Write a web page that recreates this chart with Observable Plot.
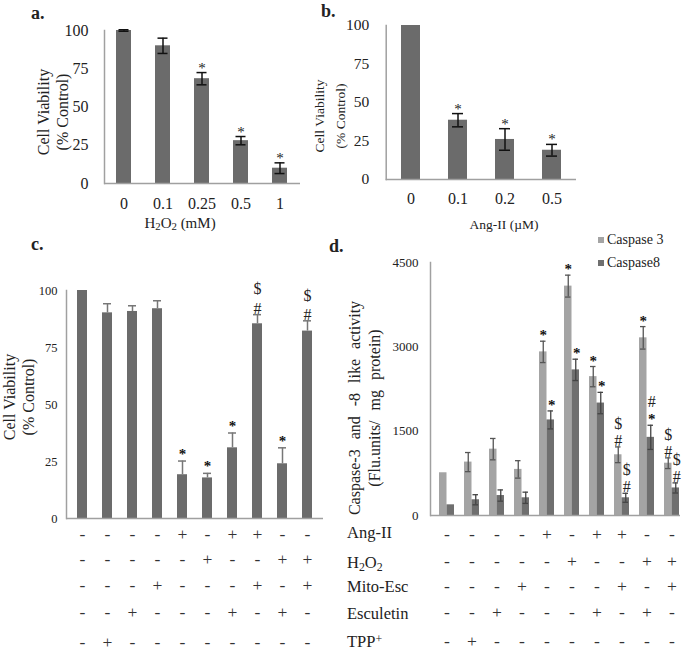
<!DOCTYPE html>
<html><head><meta charset="utf-8">
<script src="https://cdn.jsdelivr.net/npm/d3@7"></script>
<script src="https://cdn.jsdelivr.net/npm/@observablehq/plot@0.6"></script>
<style>
body{margin:0;background:#fff;}
#fig{position:relative;width:685px;height:650px;font-family:"Liberation Serif","Times New Roman",serif;color:#222;overflow:hidden;background:#fff}
#fig svg{position:absolute}
.lbl{position:absolute;white-space:nowrap}
sub{font-size:0.72em;vertical-align:-0.25em;line-height:0}
sup{font-size:0.72em;vertical-align:0.35em;line-height:0}
</style></head><body><div id="fig"></div>
<script>
// ---------- Panel a: H2O2 dose ----------
const aDoses = ["0", "0.1", "0.25", "0.5", "1"];
const aMeans = [100, 90, 68.5, 28, 10];
const aErrs = [0.5, 5, 4, 2.7, 3.5];
const aMarks = ["", "", "*", "*", "*"];
// ---------- Panel b: Ang-II dose ----------
const bDoses = ["0", "0.1", "0.2", "0.5"];
const bMeans = [100, 38.5, 26, 19];
const bErrs = [0, 4.3, 7, 3.8];
const bMarks = ["", "*", "*", "*"];
// ---------- Panel c: cell viability by treatment ----------
const groups = ["g1", "g2", "g3", "g4", "g5", "g6", "g7", "g8", "g9", "g10"];
const cMeans = [100, 90.2, 90.8, 92, 19.2, 17.8, 31, 85.4, 24, 82.2];
const cErrs = [0, 4, 2.5, 3.5, 6, 2, 6.5, 4, 7, 4.5];
const cStars = ["", "", "", "", "*", "*", "*", "", "*", ""];
const cSymbols = ["", "", "", "", "", "", "", "$\n#", "", "$\n#"];
// ---------- Panel d: caspase activity ----------
const dCasp3 = [760, 950, 1180, 820, 2910, 4080, 2470, 1080, 3160, 930];
const dCasp3Err = [0, 170, 190, 155, 190, 195, 180, 140, 200, 95];
const dCasp8 = [190, 280, 355, 315, 1700, 2590, 2000, 315, 1390, 490];
const dCasp8Err = [0, 90, 100, 100, 160, 190, 190, 80, 215, 90];
const dStars3 = ["", "", "", "", "*", "*", "*", "", "*", ""];
const dSymbols3 = ["", "", "", "", "", "", "", "$\n#", "", "$\n#"];
const dStars8 = ["", "", "", "", "*", "*", "*", "", "*", ""];
const dSymbols8 = ["", "", "", "", "", "", "", "$\n#", "#\n ", "$\n#"];
const seriesNames = ["Caspase 3", "Caspase8"];
// ---------- Treatment table ----------
const treatmentLabels = ["Ang-II", "H<sub>2</sub>O<sub>2</sub>", "Mito-Esc", "Esculetin", "TPP<sup>+</sup>"];
const signs = [
  ["-", "-", "-", "-", "+", "-", "+", "+", "-", "-"],
  ["-", "-", "-", "-", "-", "+", "-", "-", "+", "+"],
  ["-", "-", "-", "+", "-", "-", "-", "+", "-", "+"],
  ["-", "-", "+", "-", "-", "-", "+", "-", "+", "-"],
  ["-", "+", "-", "-", "-", "-", "-", "-", "-", "-"]
];
const aTicks = [0, 25, 50, 75, 100];
const dTicks = [0, 1500, 3000, 4500];

const FONT = '"Liberation Serif","Times New Roman",serif';
const BAR = "#6b6b6b", LIGHT = "#a4a4a4", DARK = "#6f6f6f", AXIS = "#a0a0a0";
const fig = document.getElementById("fig");
function addSvg(svg, left, top) { svg.style.left = left + "px"; svg.style.top = top + "px"; fig.appendChild(svg); }
function addText(html, x, y, o = {}) {
  const d = document.createElement("div");
  d.className = "lbl";
  d.innerHTML = html;
  d.style.left = x + "px"; d.style.top = y + "px";
  d.style.fontSize = (o.size || 16) + "px";
  d.style.fontWeight = o.bold ? "bold" : "normal";
  d.style.lineHeight = o.lh || "1";
  d.style.transform = o.transform || "translate(0,-50%)";
  if (o.align) d.style.textAlign = o.align;
  if (o.ws) d.style.wordSpacing = o.ws;
  fig.appendChild(d);
}
function vLabel(html, cx, cy, size, lh, ws) {
  addText(html, cx, cy, {size, lh, ws, align: "center", transform: "translate(-50%,-50%) rotate(-90deg)"});
}
const baseStyle = {fontFamily: FONT, background: "transparent", color: "#222", overflow: "visible"};
const plain = d => String(d);

// ----- Panel a -----
const aData = aDoses.map((d, i) => ({k: d, v: aMeans[i], e: aErrs[i], m: aMarks[i]}));
addSvg(Plot.plot({
  width: 330, height: 215, marginLeft: 104, marginRight: 30, marginTop: 30, marginBottom: 32,
  style: baseStyle,
  x: {domain: aDoses, paddingInner: 0.615, paddingOuter: 0.3, label: null},
  y: {domain: [0, 100], label: null},
  marks: [
    Plot.barY(aData, {x: "k", y: "v", fill: BAR}),
    Plot.ruleY([0], {stroke: AXIS, strokeWidth: 1.5}),
    Plot.frame({anchor: "left", stroke: AXIS, strokeWidth: 1.5}),
    Plot.ruleX(aData, {x: "k", y1: d => d.v - d.e, y2: d => d.v + d.e, stroke: "#111", strokeWidth: 1.5}),
    Plot.tickY(aData, {x: "k", y: d => d.v + d.e, stroke: "#111", strokeWidth: 1.5, insetLeft: 2.5, insetRight: 2.5}),
    Plot.tickY(aData, {x: "k", y: d => d.v - d.e, stroke: "#111", strokeWidth: 1.5, insetLeft: 2.5, insetRight: 2.5}),
    Plot.text(aData, {x: "k", y: d => d.v + d.e, text: "m", lineAnchor: "bottom", dy: 0, fontSize: 15, fill: "#222"}),
    Plot.axisY({ticks: aTicks, tickFormat: plain, tickSize: 0, tickPadding: 16, fontSize: 16, label: null}),
    Plot.axisX({tickSize: 0, tickPadding: 14, fontSize: 16, label: null})
  ]
}), 0, 0);

// ----- Panel b -----
const bData = bDoses.map((d, i) => ({k: d, v: bMeans[i], e: bErrs[i], m: bMarks[i]}));
const bErrData = bData.filter(d => d.e > 0);
addSvg(Plot.plot({
  width: 385, height: 215, marginLeft: 85.7, marginRight: 109, marginTop: 25, marginBottom: 36,
  style: baseStyle,
  x: {domain: bDoses, paddingInner: 0.6, paddingOuter: 0.29, label: null},
  y: {domain: [0, 100], label: null},
  marks: [
    Plot.barY(bData, {x: "k", y: "v", fill: BAR}),
    Plot.ruleY([0], {stroke: AXIS, strokeWidth: 1.5}),
    Plot.frame({anchor: "left", stroke: AXIS, strokeWidth: 1.5}),
    Plot.ruleX(bErrData, {x: "k", y1: d => d.v - d.e, y2: d => d.v + d.e, stroke: "#111", strokeWidth: 1.5}),
    Plot.tickY(bErrData, {x: "k", y: d => d.v + d.e, stroke: "#111", strokeWidth: 1.5, insetLeft: 4, insetRight: 4}),
    Plot.tickY(bErrData, {x: "k", y: d => d.v - d.e, stroke: "#111", strokeWidth: 1.5, insetLeft: 4, insetRight: 4}),
    Plot.text(bData, {x: "k", y: d => d.v + d.e, text: "m", lineAnchor: "bottom", dy: 0, fontSize: 15, fill: "#222"}),
    Plot.axisY({ticks: aTicks, tickFormat: plain, tickSize: 0, tickPadding: 17, fontSize: 15.5, label: null}),
    Plot.axisX({tickSize: 0, tickPadding: 13, fontSize: 16, label: null})
  ]
}), 300, 0);

// ----- Panel c -----
const cData = groups.map((g, i) => ({k: g, i, v: cMeans[i], e: cErrs[i], s: cStars[i], m: cSymbols[i]}));
const cErrData = cData.filter(d => d.e > 0);
const cRowDy = [21, 46, 72, 99, 129];
addSvg(Plot.plot({
  width: 335, height: 420, marginLeft: 66, marginRight: 12, marginTop: 60, marginBottom: 132,
  style: baseStyle,
  x: {domain: groups, paddingInner: 0.61, paddingOuter: 0.3, axis: null},
  y: {domain: [0, 100], label: null},
  marks: [
    Plot.barY(cData, {x: "k", y: "v", fill: BAR}),
    Plot.ruleY([0], {stroke: AXIS, strokeWidth: 1.5}),
    Plot.frame({anchor: "left", stroke: AXIS, strokeWidth: 1.5}),
    Plot.ruleX(cErrData, {x: "k", y1: "v", y2: d => d.v + d.e, stroke: "#777", strokeWidth: 1.5}),
    Plot.tickY(cErrData, {x: "k", y: d => d.v + d.e, stroke: "#777", strokeWidth: 1.5, insetLeft: 1, insetRight: 1}),
    Plot.text(cData, {x: "k", y: d => d.v + d.e, text: "s", lineAnchor: "bottom", dy: -2, fontSize: 15, fontWeight: "bold", fill: "#111"}),
    Plot.text(cData, {x: "k", y: d => d.v + d.e, text: "m", lineAnchor: "bottom", dy: -1, fontSize: 16, fill: "#222", lineHeight: 1.2}),
    ...signs.map((row, j) => Plot.text(cData, {x: "k", text: d => row[d.i], frameAnchor: "bottom", dy: cRowDy[j], fontSize: 17.5, fill: "#333"})),
    Plot.axisY({ticks: aTicks, tickFormat: plain, tickSize: 0, tickPadding: 9, fontSize: 12.5, label: null})
  ]
}), 0, 230);

// ----- Panel d -----
const dData = groups.map((g, i) => ({k: g, i, c3: dCasp3[i], e3: dCasp3Err[i], c8: dCasp8[i], e8: dCasp8Err[i],
  s3: dStars3[i], m3: dSymbols3[i], s8: dStars8[i], m8: dSymbols8[i]}));
const d3Err = dData.filter(d => d.e3 > 0), d8Err = dData.filter(d => d.e8 > 0);
const dRowDy = [24, 51, 76, 102, 131];
const half = 7.5;
addSvg(Plot.plot({
  width: 345, height: 420, marginLeft: 90, marginRight: 5, marginTop: 32, marginBottom: 135,
  style: baseStyle,
  x: {domain: groups, range: [97.5, 339.8], paddingInner: 0.406, paddingOuter: 0, axis: null},
  y: {domain: [0, 4500], label: null},
  marks: [
    Plot.barY(dData, {x: "k", y: "c3", fill: LIGHT, insetRight: half}),
    Plot.barY(dData, {x: "k", y: "c8", fill: DARK, insetLeft: half}),
    Plot.ruleY([0], {stroke: AXIS, strokeWidth: 1.5}),
    Plot.frame({anchor: "left", stroke: AXIS, strokeWidth: 1.5}),
    Plot.ruleX(d3Err, {x: "k", y1: d => d.c3 - d.e3, y2: d => d.c3 + d.e3, dx: -half / 2, stroke: "#555", strokeWidth: 1.3}),
    Plot.tickY(d3Err, {x: "k", y: d => d.c3 + d.e3, stroke: "#555", strokeWidth: 1.3, insetLeft: 1, insetRight: 8.5}),
    Plot.tickY(d3Err, {x: "k", y: d => d.c3 - d.e3, stroke: "#555", strokeWidth: 1.3, insetLeft: 1, insetRight: 8.5}),
    Plot.ruleX(d8Err, {x: "k", y1: d => d.c8 - d.e8, y2: d => d.c8 + d.e8, dx: half / 2, stroke: "#444", strokeWidth: 1.3}),
    Plot.tickY(d8Err, {x: "k", y: d => d.c8 + d.e8, stroke: "#444", strokeWidth: 1.3, insetLeft: 8.5, insetRight: 1}),
    Plot.tickY(d8Err, {x: "k", y: d => d.c8 - d.e8, stroke: "#444", strokeWidth: 1.3, insetLeft: 8.5, insetRight: 1}),
    Plot.text(dData, {x: "k", y: d => d.c3 + d.e3, text: "s3", dx: -half / 2, lineAnchor: "bottom", dy: -1, fontSize: 15, fontWeight: "bold", fill: "#111"}),
    Plot.text(dData, {x: "k", y: d => d.c3 + d.e3, text: "m3", dx: -half / 2, lineAnchor: "bottom", dy: -1, fontSize: 16, fill: "#222", lineHeight: 1.05}),
    Plot.text(dData, {x: "k", y: d => d.c8 + d.e8, text: "s8", dx: half / 2 + 1, lineAnchor: "bottom", dy: -1, fontSize: 15, fontWeight: "bold", fill: "#111"}),
    Plot.text(dData, {x: "k", y: d => d.c8 + d.e8, text: "m8", dx: half / 2 + 1, lineAnchor: "bottom", dy: -1, fontSize: 16, fill: "#222", lineHeight: 1.05}),
    ...signs.map((row, j) => Plot.text(dData, {x: "k", text: d => row[d.i], frameAnchor: "bottom", dy: dRowDy[j], fontSize: 17.5, fill: "#333"})),
    Plot.axisY({ticks: dTicks, tickFormat: plain, tickSize: 0, tickPadding: 12, fontSize: 13, label: null})
  ]
}), 340, 230);

// ----- Text: panel letters, axis titles, row labels, legend -----
addText("a.", 31, 13, {size: 18, bold: true});
addText("b.", 321, 11, {size: 18, bold: true});
addText("c.", 31, 244, {size: 18, bold: true});
addText("d.", 329, 246, {size: 18, bold: true});
addText("H<sub>2</sub>O<sub>2</sub> (mM)", 180, 223, {size: 15, transform: "translate(-50%,-50%)"});
addText("Ang-II (&micro;M)", 504, 225, {size: 13.5, transform: "translate(-50%,-50%)"});
vLabel("Cell Viability<br>(% Control)", 52.5, 112, 16, "19px");
vLabel("Cell Viability<br>(% Control)", 329.5, 116, 13.5, "21px");
vLabel("Cell Viability<br>(% Control)", 19, 397, 16, "19px");
vLabel("Caspase-3 and -8 like activity<br>(Flu.units/ mg protein)", 365, 408, 16, "20px", "6px");
const rowY = [533, 563, 587, 614, 642];
treatmentLabels.forEach((t, j) => addText(t, 347, rowY[j], {size: 16.5}));
[LIGHT, DARK].forEach((c, j) => {
  const sq = document.createElement("div");
  sq.style.cssText = `position:absolute;left:598px;top:${237 + j * 23}px;width:6px;height:6px;background:${c}`;
  fig.appendChild(sq);
  addText(seriesNames[j], 607, 240 + j * 23, {size: 14});
});
</script></body></html>
